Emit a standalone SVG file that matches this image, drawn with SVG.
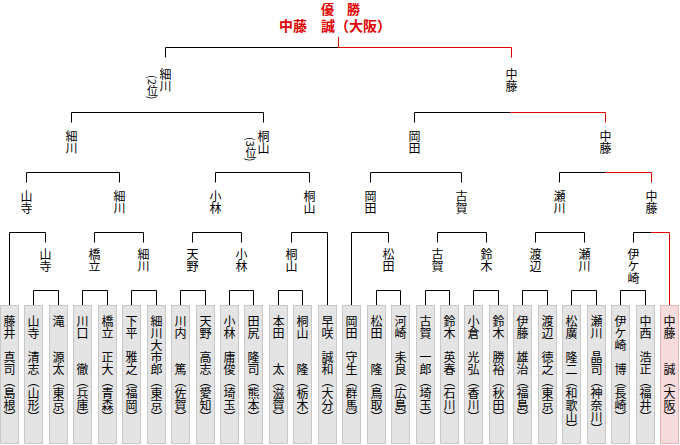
<svg xmlns="http://www.w3.org/2000/svg" width="680" height="445" viewBox="0 0 680 445">
<style>
.v{writing-mode:vertical-rl;font-family:"Noto Sans CJK JP","Noto Sans CJK SC",sans-serif;font-size:12px;fill:#000}
.s{font-size:11px}
.box{fill:#e4e4e4;stroke:#c8c8c8;stroke-width:1}
.win{fill:#f6dcdc;stroke:#e4b8b8;stroke-width:1}
.k{fill:none;stroke:#000;stroke-width:1}
.r{fill:none;stroke:#e00000;stroke-width:1}
.t{font-family:"Noto Sans CJK JP","Noto Sans CJK SC",sans-serif;font-weight:bold;fill:#e00000}
</style>
<rect width="680" height="445" fill="#fff"/>
<g id="title">
<text class="t" x="340.5" y="14" font-size="13" text-anchor="middle">優　勝</text>
<text class="t" x="279" y="31" font-size="14">中藤　誠（大阪）</text>
</g>
<g id="connectors">
<path class="k" d="M33.5 305V290.5H58.5V305M82.5 305V290.5H107.5V305M131.5 305V290.5H156.5V305M180.5 305V290.5H205.5V305M229.5 305V290.5H253.5V305M278.5 305V290.5H302.5V305M376.5 305V290.5H400.5V305M425.5 305V290.5H449.5V305M473.5 305V290.5H498.5V305M522.5 305V290.5H547.5V305M571.5 305V290.5H596.5V305M620.5 305V290.5H645.5V305"/>
<path class="k" d="M9.5 305V232.5H45.5V242.5M94.5 242.5V232.5H143.5V242.5M192.5 242.5V232.5H241.5V242.5M291.5 242.5V232.5H327.5V305M351.5 305V232.5H388.5V242.5M437.5 242.5V232.5H486.5V242.5M535.5 242.5V232.5H584.5V242.5M633.5 242.5V232.5H651.5"/>
<path class="r" d="M651.5 232.5H669.5V305"/>
<path class="k" d="M26.5 182.5V172.5H119.5V182.5M215.5 182.5V172.5H309.5V182.5M370.5 182.5V172.5H461.5V182.5M559.5 182.5V172.5H605.5"/>
<path class="r" d="M605.5 172.5H651.5V182.5"/>
<path class="k" d="M71.5 122.5V112.5H263.5V122.5M414.5 122.5V112.5H510.5"/>
<path class="r" d="M510.5 112.5H605.5V122.5"/>
<path class="k" d="M165.5 57.5V47.5H338.5"/>
<path class="r" d="M338.5 47.5H511.5V57.5M338.5 47.5V37"/>
</g>
<g id="p0"><rect class="box" x="0.5" y="305.5" width="18" height="138"/><text class="v" x="9.5" y="315">藤井　真司（島根）</text></g>
<g id="p1"><rect class="box" x="24.5" y="305.5" width="18" height="138"/><text class="v" x="33.5" y="315">山寺　清志（山形）</text></g>
<g id="p2"><rect class="box" x="49.5" y="305.5" width="18" height="138"/><text class="v" x="58.5" y="315">滝　　源太（東京）</text></g>
<g id="p3"><rect class="box" x="73.5" y="305.5" width="18" height="138"/><text class="v" x="82.5" y="315">川口　　徹（兵庫）</text></g>
<g id="p4"><rect class="box" x="98.5" y="305.5" width="18" height="138"/><text class="v" x="107.5" y="315">橋立　正大（青森）</text></g>
<g id="p5"><rect class="box" x="122.5" y="305.5" width="18" height="138"/><text class="v" x="131.5" y="315">下平　雅之（福岡）</text></g>
<g id="p6"><rect class="box" x="147.5" y="305.5" width="18" height="138"/><text class="v" x="156.5" y="315">細川大市郎（東京）</text></g>
<g id="p7"><rect class="box" x="171.5" y="305.5" width="18" height="138"/><text class="v" x="180.5" y="315">川内　　篤（佐賀）</text></g>
<g id="p8"><rect class="box" x="196.5" y="305.5" width="18" height="138"/><text class="v" x="205.5" y="315">天野　高志（愛知）</text></g>
<g id="p9"><rect class="box" x="220.5" y="305.5" width="18" height="138"/><text class="v" x="229.5" y="315">小林　庸俊（埼玉）</text></g>
<g id="p10"><rect class="box" x="244.5" y="305.5" width="18" height="138"/><text class="v" x="253.5" y="315">田尻　隆司（熊本）</text></g>
<g id="p11"><rect class="box" x="269.5" y="305.5" width="18" height="138"/><text class="v" x="278.5" y="315">本田　　太（滋賀）</text></g>
<g id="p12"><rect class="box" x="293.5" y="305.5" width="18" height="138"/><text class="v" x="302.5" y="315">桐山　　隆（栃木）</text></g>
<g id="p13"><rect class="box" x="318.5" y="305.5" width="18" height="138"/><text class="v" x="327.5" y="315">早咲　誠和（大分）</text></g>
<g id="p14"><rect class="box" x="342.5" y="305.5" width="18" height="138"/><text class="v" x="351.5" y="315">岡田　守生（群馬）</text></g>
<g id="p15"><rect class="box" x="367.5" y="305.5" width="18" height="138"/><text class="v" x="376.5" y="315">松田　　隆（鳥取）</text></g>
<g id="p16"><rect class="box" x="391.5" y="305.5" width="18" height="138"/><text class="v" x="400.5" y="315">河崎　耒良（広島）</text></g>
<g id="p17"><rect class="box" x="416.5" y="305.5" width="18" height="138"/><text class="v" x="425.5" y="315">古賀　一郎（埼玉）</text></g>
<g id="p18"><rect class="box" x="440.5" y="305.5" width="18" height="138"/><text class="v" x="449.5" y="315">鈴木　英春（石川）</text></g>
<g id="p19"><rect class="box" x="464.5" y="305.5" width="18" height="138"/><text class="v" x="473.5" y="315">小倉　光弘（香川）</text></g>
<g id="p20"><rect class="box" x="489.5" y="305.5" width="18" height="138"/><text class="v" x="498.5" y="315">鈴木　勝裕（秋田）</text></g>
<g id="p21"><rect class="box" x="513.5" y="305.5" width="18" height="138"/><text class="v" x="522.5" y="315">伊藤　雄治（福島）</text></g>
<g id="p22"><rect class="box" x="538.5" y="305.5" width="18" height="138"/><text class="v" x="547.5" y="315">渡辺　徳之（東京）</text></g>
<g id="p23"><rect class="box" x="562.5" y="305.5" width="18" height="138"/><text class="v" x="571.5" y="315">松廣　隆二（和歌山）</text></g>
<g id="p24"><rect class="box" x="587.5" y="305.5" width="18" height="138"/><text class="v" x="596.5" y="315">瀬川　晶司（神奈川）</text></g>
<g id="p25"><rect class="box" x="611.5" y="305.5" width="18" height="138"/><text class="v" x="620.5" y="315">伊ケ崎　博（長崎）</text></g>
<g id="p26"><rect class="box" x="636.5" y="305.5" width="18" height="138"/><text class="v" x="645.5" y="315">中西　浩正（福井）</text></g>
<g id="p27"><rect class="win" x="660.5" y="305.5" width="18" height="138"/><text class="v" x="669.5" y="315">中藤　　誠（大阪）</text></g>
<g id="r1-1"><text class="v" x="45.5" y="248">山寺</text></g>
<g id="r1-2"><text class="v" x="94.5" y="248">橋立</text></g>
<g id="r1-3"><text class="v" x="143.5" y="248">細川</text></g>
<g id="r1-4"><text class="v" x="192.5" y="248">天野</text></g>
<g id="r1-5"><text class="v" x="241.5" y="248">小林</text></g>
<g id="r1-6"><text class="v" x="291.5" y="248">桐山</text></g>
<g id="r1-7"><text class="v" x="388.5" y="248">松田</text></g>
<g id="r1-8"><text class="v" x="437.5" y="248">古賀</text></g>
<g id="r1-9"><text class="v" x="486.5" y="248">鈴木</text></g>
<g id="r1-10"><text class="v" x="535.5" y="248">渡辺</text></g>
<g id="r1-11"><text class="v" x="584.5" y="248">瀬川</text></g>
<g id="r1-12"><text class="v" x="633.5" y="248">伊ケ崎</text></g>
<g id="r2-1"><text class="v" x="26.5" y="190">山寺</text></g>
<g id="r2-2"><text class="v" x="119.5" y="190">細川</text></g>
<g id="r2-3"><text class="v" x="215.5" y="190">小林</text></g>
<g id="r2-4"><text class="v" x="309.5" y="190">桐山</text></g>
<g id="r2-5"><text class="v" x="370.5" y="190">岡田</text></g>
<g id="r2-6"><text class="v" x="461.5" y="190">古賀</text></g>
<g id="r2-7"><text class="v" x="559.5" y="190">瀬川</text></g>
<g id="r2-8"><text class="v" x="651.5" y="190">中藤</text></g>
<g id="qf-1"><text class="v" x="71.5" y="130">細川</text></g>
<g id="qf-2"><text class="v" x="263.5" y="130">桐山</text><text class="v s" x="251" y="137">(3位)</text></g>
<g id="qf-3"><text class="v" x="414.5" y="130">岡田</text></g>
<g id="qf-4"><text class="v" x="605.5" y="130">中藤</text></g>
<g id="sf-1"><text class="v" x="165.5" y="68">細川</text><text class="v s" x="152.5" y="75">(2位)</text></g>
<g id="sf-2"><text class="v" x="511.5" y="68">中藤</text></g>
</svg>
